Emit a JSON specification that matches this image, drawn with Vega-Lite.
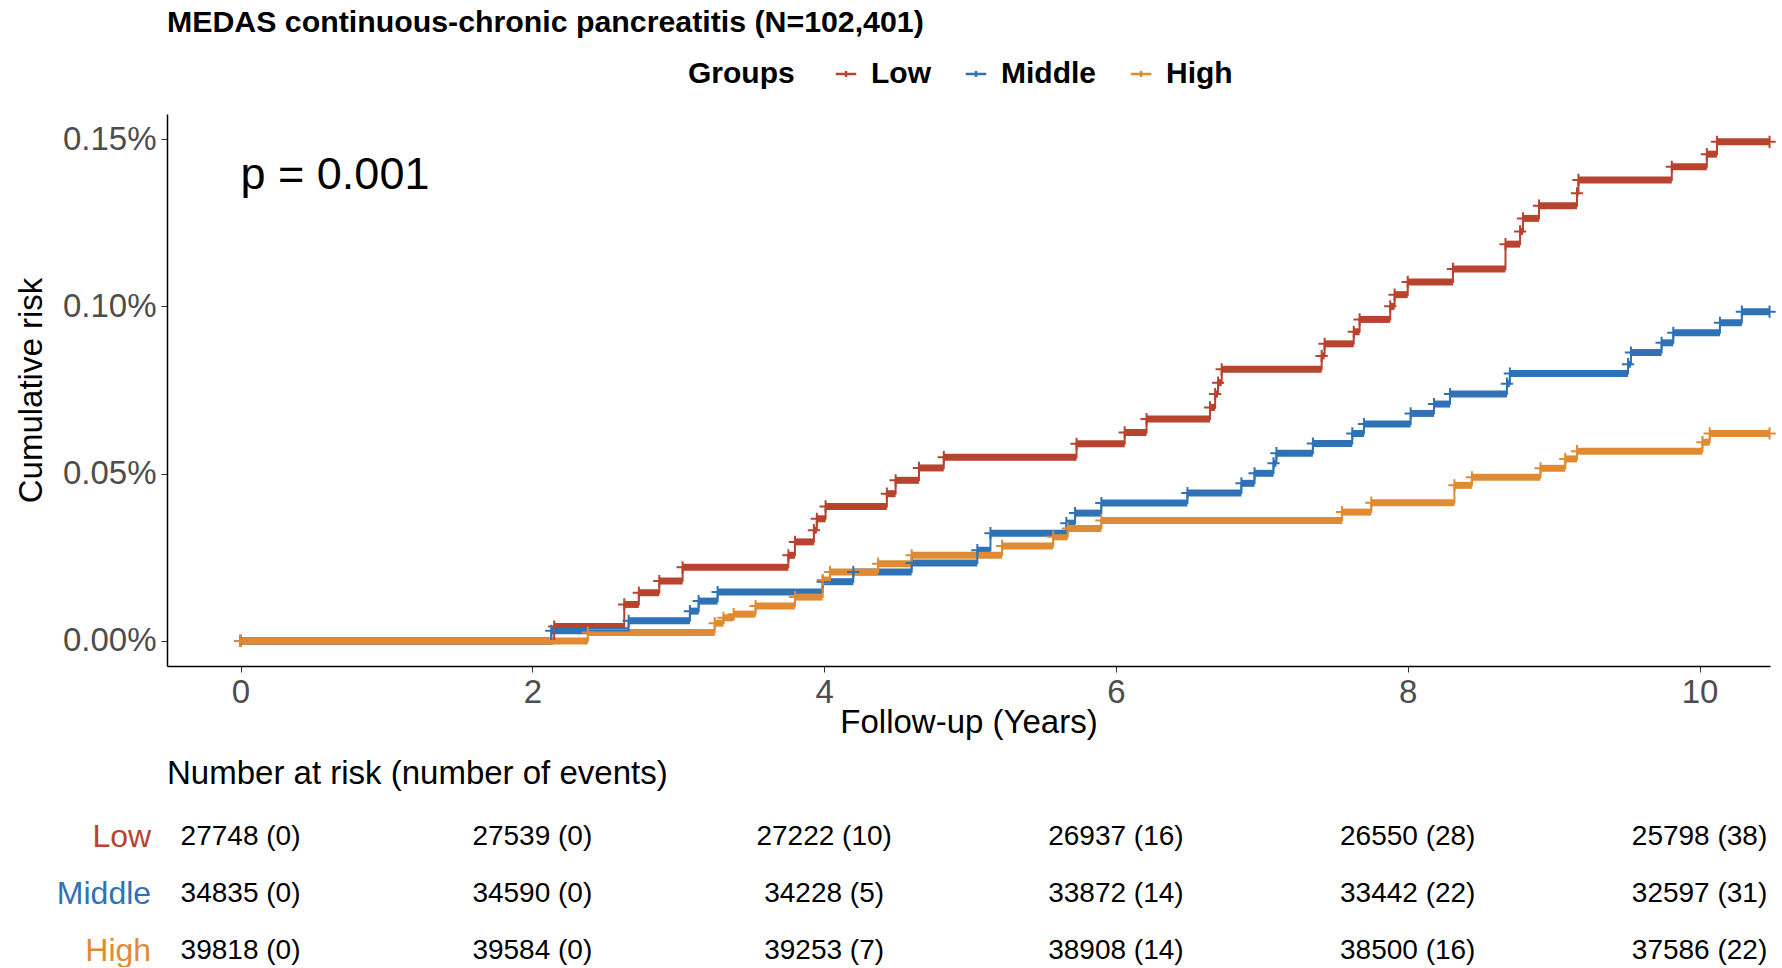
{
  "$schema": "https://vega.github.io/schema/vega-lite/v6.json",
  "padding": {"left": 15, "top": 7, "right": 8, "bottom": 0},
  "autosize": {"type": "pad"},
  "background": "white",
  "config": {"view": {"stroke": null}, "font": "Liberation Sans"},
  "spacing": 19,
  "datasets": {
    "km": [
      {"group": "Low", "time": 0, "risk": 0},
      {"group": "Low", "time": 2.15, "risk": 0.000043},
      {"group": "Low", "time": 2.63, "risk": 0.000109},
      {"group": "Low", "time": 2.73, "risk": 0.000144},
      {"group": "Low", "time": 2.87, "risk": 0.000179},
      {"group": "Low", "time": 3.03, "risk": 0.00022},
      {"group": "Low", "time": 3.755, "risk": 0.000256},
      {"group": "Low", "time": 3.8, "risk": 0.000296},
      {"group": "Low", "time": 3.93, "risk": 0.000331},
      {"group": "Low", "time": 3.95, "risk": 0.000365},
      {"group": "Low", "time": 4.01, "risk": 0.000402},
      {"group": "Low", "time": 4.43, "risk": 0.00044},
      {"group": "Low", "time": 4.49, "risk": 0.00048},
      {"group": "Low", "time": 4.65, "risk": 0.000517},
      {"group": "Low", "time": 4.82, "risk": 0.000549},
      {"group": "Low", "time": 5.73, "risk": 0.000589},
      {"group": "Low", "time": 6.06, "risk": 0.000623},
      {"group": "Low", "time": 6.21, "risk": 0.000663},
      {"group": "Low", "time": 6.645, "risk": 0.000698},
      {"group": "Low", "time": 6.68, "risk": 0.000738},
      {"group": "Low", "time": 6.7, "risk": 0.000772},
      {"group": "Low", "time": 6.725, "risk": 0.000812},
      {"group": "Low", "time": 7.41, "risk": 0.000852},
      {"group": "Low", "time": 7.43, "risk": 0.000888},
      {"group": "Low", "time": 7.63, "risk": 0.000924},
      {"group": "Low", "time": 7.67, "risk": 0.000961},
      {"group": "Low", "time": 7.88, "risk": 0.001},
      {"group": "Low", "time": 7.91, "risk": 0.001035},
      {"group": "Low", "time": 8.0, "risk": 0.001073},
      {"group": "Low", "time": 8.31, "risk": 0.001112},
      {"group": "Low", "time": 8.67, "risk": 0.001186},
      {"group": "Low", "time": 8.77, "risk": 0.001224},
      {"group": "Low", "time": 8.79, "risk": 0.001263},
      {"group": "Low", "time": 8.9, "risk": 0.001301},
      {"group": "Low", "time": 9.16, "risk": 0.001338},
      {"group": "Low", "time": 9.17, "risk": 0.001378},
      {"group": "Low", "time": 9.81, "risk": 0.001417},
      {"group": "Low", "time": 10.05, "risk": 0.001455},
      {"group": "Low", "time": 10.12, "risk": 0.001492},
      {"group": "Low", "time": 10.48, "risk": 0.001492},
      {"group": "Middle", "time": 0, "risk": 0},
      {"group": "Middle", "time": 2.13, "risk": 0.00003},
      {"group": "Middle", "time": 2.66, "risk": 0.00006},
      {"group": "Middle", "time": 3.08, "risk": 0.000089},
      {"group": "Middle", "time": 3.14, "risk": 0.000119},
      {"group": "Middle", "time": 3.27, "risk": 0.000146},
      {"group": "Middle", "time": 3.99, "risk": 0.000177},
      {"group": "Middle", "time": 4.2, "risk": 0.000206},
      {"group": "Middle", "time": 4.6, "risk": 0.000233},
      {"group": "Middle", "time": 5.05, "risk": 0.000271},
      {"group": "Middle", "time": 5.14, "risk": 0.000322},
      {"group": "Middle", "time": 5.66, "risk": 0.000352},
      {"group": "Middle", "time": 5.72, "risk": 0.000382},
      {"group": "Middle", "time": 5.9, "risk": 0.000412},
      {"group": "Middle", "time": 6.49, "risk": 0.000442},
      {"group": "Middle", "time": 6.86, "risk": 0.000471},
      {"group": "Middle", "time": 6.95, "risk": 0.000501},
      {"group": "Middle", "time": 7.08, "risk": 0.000531},
      {"group": "Middle", "time": 7.1, "risk": 0.000561},
      {"group": "Middle", "time": 7.35, "risk": 0.00059},
      {"group": "Middle", "time": 7.62, "risk": 0.00062},
      {"group": "Middle", "time": 7.7, "risk": 0.000648},
      {"group": "Middle", "time": 8.02, "risk": 0.00068},
      {"group": "Middle", "time": 8.18, "risk": 0.000708},
      {"group": "Middle", "time": 8.29, "risk": 0.000738},
      {"group": "Middle", "time": 8.68, "risk": 0.000769},
      {"group": "Middle", "time": 8.7, "risk": 0.000799},
      {"group": "Middle", "time": 9.51, "risk": 0.000827},
      {"group": "Middle", "time": 9.53, "risk": 0.000862},
      {"group": "Middle", "time": 9.74, "risk": 0.000891},
      {"group": "Middle", "time": 9.82, "risk": 0.000921},
      {"group": "Middle", "time": 10.14, "risk": 0.000951},
      {"group": "Middle", "time": 10.29, "risk": 0.000984},
      {"group": "Middle", "time": 10.48, "risk": 0.000984},
      {"group": "High", "time": 0, "risk": 0},
      {"group": "High", "time": 2.38, "risk": 0.000025},
      {"group": "High", "time": 3.25, "risk": 0.000053},
      {"group": "High", "time": 3.31, "risk": 0.000069},
      {"group": "High", "time": 3.38, "risk": 0.00008},
      {"group": "High", "time": 3.53, "risk": 0.000104},
      {"group": "High", "time": 3.8, "risk": 0.000131},
      {"group": "High", "time": 3.99, "risk": 0.000182},
      {"group": "High", "time": 4.04, "risk": 0.000206},
      {"group": "High", "time": 4.37, "risk": 0.000231},
      {"group": "High", "time": 4.6, "risk": 0.000256},
      {"group": "High", "time": 5.22, "risk": 0.000284},
      {"group": "High", "time": 5.57, "risk": 0.000311},
      {"group": "High", "time": 5.67, "risk": 0.000336},
      {"group": "High", "time": 5.9, "risk": 0.00036},
      {"group": "High", "time": 7.55, "risk": 0.000385},
      {"group": "High", "time": 7.75, "risk": 0.000413},
      {"group": "High", "time": 8.32, "risk": 0.000465},
      {"group": "High", "time": 8.44, "risk": 0.000489},
      {"group": "High", "time": 8.91, "risk": 0.000516},
      {"group": "High", "time": 9.08, "risk": 0.000544},
      {"group": "High", "time": 9.16, "risk": 0.000567},
      {"group": "High", "time": 10.02, "risk": 0.000594},
      {"group": "High", "time": 10.07, "risk": 0.00062},
      {"group": "High", "time": 10.48, "risk": 0.00062}
    ],
    "risk": [
      {"group": "Low", "time": 0, "label": "27748 (0)"},
      {"group": "Low", "time": 2, "label": "27539 (0)"},
      {"group": "Low", "time": 4, "label": "27222 (10)"},
      {"group": "Low", "time": 6, "label": "26937 (16)"},
      {"group": "Low", "time": 8, "label": "26550 (28)"},
      {"group": "Low", "time": 10, "label": "25798 (38)"},
      {"group": "Middle", "time": 0, "label": "34835 (0)"},
      {"group": "Middle", "time": 2, "label": "34590 (0)"},
      {"group": "Middle", "time": 4, "label": "34228 (5)"},
      {"group": "Middle", "time": 6, "label": "33872 (14)"},
      {"group": "Middle", "time": 8, "label": "33442 (22)"},
      {"group": "Middle", "time": 10, "label": "32597 (31)"},
      {"group": "High", "time": 0, "label": "39818 (0)"},
      {"group": "High", "time": 2, "label": "39584 (0)"},
      {"group": "High", "time": 4, "label": "39253 (7)"},
      {"group": "High", "time": 6, "label": "38908 (14)"},
      {"group": "High", "time": 8, "label": "38500 (16)"},
      {"group": "High", "time": 10, "label": "37586 (22)"}
    ],
    "rows": [
      {"group": "Low"},
      {"group": "Middle"},
      {"group": "High"}
    ],
    "pval": [
      {"label": "p = 0.001"}
    ]
  },
  "vconcat": [
    {
      "width": 1603,
      "height": 552,
      "title": {
        "text": "MEDAS continuous-chronic pancreatitis (N=102,401)",
        "anchor": "start",
        "frame": "group",
        "fontSize": 30.3,
        "fontWeight": "bold",
        "color": "#000000",
        "offset": 76
      },
      "layer": [
        {
          "data": {"name": "km"},
          "transform": [
            {"window": [{"op": "lead", "field": "time", "as": "next"}], "groupby": ["group"], "sort": [{"field": "time"}]},
            {"filter": "datum.next != null"}
          ],
          "mark": {"type": "rule", "strokeWidth": 7},
          "encoding": {
            "x": {"field": "time", "type": "quantitative"},
            "x2": {"field": "next"},
            "y": {"field": "risk", "type": "quantitative"},
            "color": {"field": "group", "type": "nominal"}
          }
        },
        {
          "data": {"name": "km"},
          "mark": {"type": "line", "interpolate": "step-after", "strokeWidth": 2},
          "encoding": {
            "x": {"field": "time", "type": "quantitative"},
            "y": {"field": "risk", "type": "quantitative"},
            "color": {"field": "group", "type": "nominal"}
          }
        },
        {
          "data": {"name": "km"},
          "mark": {"type": "point", "shape": "M-1,0H1M0,-1V1", "filled": false, "size": 150, "strokeWidth": 2, "opacity": 1},
          "encoding": {
            "x": {"field": "time", "type": "quantitative",
              "scale": {"domain": [-0.504, 10.483], "nice": false, "zero": false},
              "axis": {"values": [0, 2, 4, 6, 8, 10], "format": "d", "title": "Follow-up (Years)",
                "labelFontSize": 33, "labelColor": "#4D4D4D", "titleFontSize": 33, "titleFontWeight": "normal", "titleColor": "#000000",
                "tickSize": 6, "tickColor": "#333333", "domainColor": "#000000", "domainWidth": 1.5, "grid": false, "labelPadding": 4, "titlePadding": -3}},
            "y": {"field": "risk", "type": "quantitative",
              "scale": {"domain": [-0.000075, 0.001575], "nice": false, "zero": false},
              "axis": {"values": [0, 0.0005, 0.001, 0.0015], "format": ".2%", "title": "Cumulative risk",
                "labelFontSize": 33, "labelColor": "#4D4D4D", "titleFontSize": 33, "titleFontWeight": "normal", "titleColor": "#000000",
                "tickSize": 6, "tickColor": "#333333", "domainColor": "#000000", "domainWidth": 1.5, "grid": false, "labelPadding": 5, "titlePadding": 14}},
            "color": {"field": "group", "type": "nominal",
              "scale": {"domain": ["Low", "Middle", "High"], "range": ["#B8432F", "#2F72B6", "#E08B33"]},
              "legend": {"title": "Groups", "orient": "none", "legendX": 521, "legendY": -55, "direction": "horizontal", "titleOrient": "left",
                "titleFontSize": 30, "titleFontWeight": "bold", "titleColor": "#000000", "labelFontSize": 30, "labelFontWeight": "bold", "labelColor": "#000000",
                "symbolType": "M-1,0H1M0,-0.3V0.3", "symbolSize": 420, "symbolStrokeWidth": 2.5, "symbolFillColor": "transparent",
                "columnPadding": 29, "labelOffset": 10, "titlePadding": 36}}
          }
        },
        {
          "data": {"name": "pval"},
          "mark": {"type": "text", "align": "left", "baseline": "middle", "fontSize": 45, "color": "#000000"},
          "encoding": {
            "x": {"datum": 0},
            "y": {"datum": 0.001394},
            "text": {"field": "label"}
          }
        }
      ]
    },
    {
      "width": 1603,
      "height": 142,
      "title": {
        "text": "Number at risk (number of events)",
        "anchor": "start",
        "frame": "group",
        "fontSize": 33,
        "fontWeight": "normal",
        "color": "#000000",
        "offset": 30
      },
      "layer": [
        {
          "data": {"name": "risk"},
          "mark": {"type": "text", "fontSize": 28, "color": "#000000", "align": "center", "baseline": "middle"},
          "encoding": {
            "x": {"field": "time", "type": "quantitative", "scale": {"domain": [-0.504, 10.483], "nice": false, "zero": false}, "axis": null},
            "y": {"field": "group", "type": "nominal", "sort": ["Low", "Middle", "High"], "scale": {"type": "point", "padding": 0.25}, "axis": null},
            "text": {"field": "label"}
          }
        },
        {
          "data": {"name": "rows"},
          "mark": {"type": "text", "fontSize": 32, "align": "right", "baseline": "middle"},
          "encoding": {
            "x": {"datum": -0.613},
            "y": {"field": "group", "type": "nominal", "sort": ["Low", "Middle", "High"]},
            "text": {"field": "group"},
            "color": {"field": "group", "type": "nominal",
              "scale": {"domain": ["Low", "Middle", "High"], "range": ["#B8432F", "#2F72B6", "#E08B33"]},
              "legend": null}
          }
        }
      ]
    }
  ]
}
